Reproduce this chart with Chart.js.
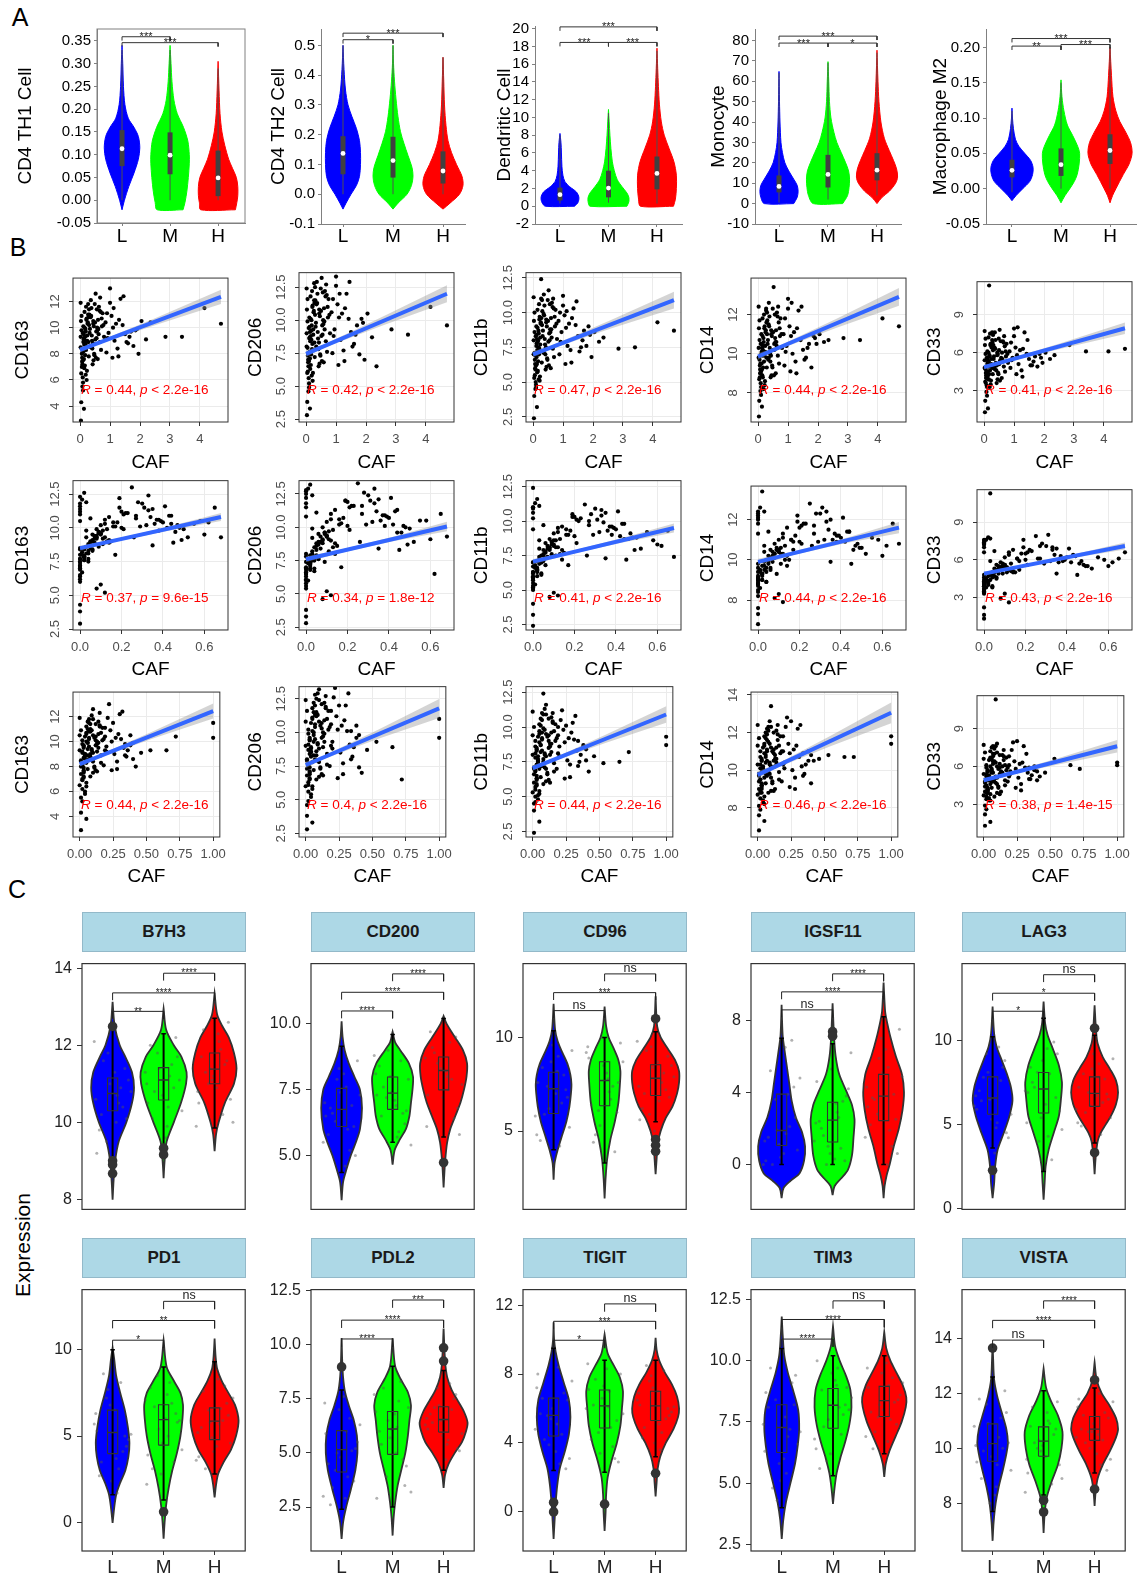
<!DOCTYPE html>
<html lang="en">
<head>
<meta charset="utf-8">
<title>Immune infiltration figure</title>
<script src="https://cdn.jsdelivr.net/npm/chart.js@4.4.1/dist/chart.umd.min.js"></script>
<style>
html,body{margin:0;padding:0;background:#ffffff;}
body{position:relative;width:1145px;height:1576px;overflow:hidden;font-family:"Liberation Sans",Arial,Helvetica,sans-serif;color:#000;}
canvas{position:absolute;}
.plab{position:absolute;font-size:25px;line-height:1;transform:translate(-50%,-50%);}
.strip{position:absolute;box-sizing:border-box;background:#ADD8E6;border:1px solid #93B9C9;font-weight:bold;font-size:17px;color:#1a1a1a;display:flex;align-items:center;justify-content:center;}
.ylab{position:absolute;font-size:21px;line-height:1;white-space:nowrap;transform:translate(-50%,-50%) rotate(-90deg);}
</style>
</head>
<body>
<div class="plab" style="left:20px;top:17px;">A</div>
<div class="plab" style="left:18px;top:247px;">B</div>
<div class="plab" style="left:17px;top:889px;">C</div>
<div class="ylab" style="left:22px;top:1245px;">Expression</div>
<script>
// ======================= DATA =======================
const groupLabels = ['L', 'M', 'H'];

// ---------- Panel A ----------
const aTitles = ['CD4 TH1 Cell', 'CD4 TH2 Cell', 'Dendritic Cell', 'Monocyte', 'Macrophage M2'];
const aYTicks = [
  [-0.05, 0, 0.05, 0.1, 0.15, 0.2, 0.25, 0.3, 0.35],
  [-0.1, 0, 0.1, 0.2, 0.3, 0.4, 0.5],
  [-2, 0, 2, 4, 6, 8, 10, 12, 14, 16, 18, 20],
  [-10, 0, 10, 20, 30, 40, 50, 60, 70, 80],
  [-0.05, 0, 0.05, 0.1, 0.15, 0.2]
];
const aYRange = [[-0.05, 0.376], [-0.1, 0.555], [-2, 20.3], [-10, 85.6], [-0.05, 0.226]];
// violin density profiles: [value, half-width]
const aViolins = [
  [
    [[-0.021,0],[0,0.05],[0.03,0.14],[0.06,0.25],[0.09,0.34],[0.115,0.37],[0.14,0.34],[0.16,0.25],[0.18,0.13],[0.21,0.06],[0.25,0.03],[0.3,0.015],[0.34,0]],
    [[-0.021,0.27],[-0.005,0.31],[0.02,0.35],[0.05,0.38],[0.08,0.4],[0.1,0.4],[0.13,0.37],[0.16,0.28],[0.19,0.15],[0.22,0.08],[0.26,0.04],[0.3,0.02],[0.34,0]],
    [[-0.021,0.36],[-0.005,0.39],[0.01,0.41],[0.03,0.41],[0.05,0.38],[0.07,0.3],[0.09,0.22],[0.12,0.14],[0.15,0.08],[0.19,0.04],[0.24,0.02],[0.305,0]]
  ],
  [
    [[-0.05,0],[-0.03,0.06],[0,0.16],[0.03,0.27],[0.06,0.33],[0.1,0.35],[0.14,0.35],[0.18,0.33],[0.22,0.27],[0.26,0.18],[0.3,0.1],[0.35,0.05],[0.42,0.02],[0.5,0]],
    [[-0.05,0],[-0.03,0.1],[0,0.28],[0.03,0.37],[0.06,0.4],[0.09,0.38],[0.13,0.3],[0.17,0.22],[0.21,0.15],[0.26,0.1],[0.32,0.06],[0.38,0.03],[0.44,0.01],[0.5,0]],
    [[-0.05,0],[-0.03,0.14],[0,0.33],[0.03,0.4],[0.06,0.38],[0.1,0.27],[0.14,0.17],[0.18,0.1],[0.23,0.06],[0.3,0.03],[0.38,0.015],[0.46,0]]
  ],
  [
    [[0,0.3],[0.4,0.37],[1,0.39],[1.6,0.34],[2.2,0.2],[2.8,0.1],[3.5,0.06],[4.5,0.04],[6,0.03],[7.2,0.02],[8.2,0]],
    [[0,0.38],[0.5,0.42],[1,0.42],[1.5,0.38],[2.2,0.28],[3,0.18],[4,0.12],[5,0.08],[6.5,0.05],[8,0.03],[9.5,0.015],[10.9,0]],
    [[0,0.34],[0.8,0.38],[2,0.4],[3.5,0.4],[5,0.35],[6.5,0.25],[8,0.15],[9.5,0.09],[11.5,0.05],[13.5,0.03],[15.5,0.015],[17.8,0]]
  ],
  [
    [[0,0.3],[3,0.37],[6,0.39],[9,0.37],[12,0.3],[16,0.2],[20,0.12],[25,0.07],[30,0.04],[40,0.02],[50,0.01],[64.8,0]],
    [[0,0.3],[4,0.4],[8,0.43],[12,0.44],[16,0.42],[20,0.36],[25,0.27],[30,0.18],[35,0.12],[42,0.06],[50,0.03],[60,0.015],[69.6,0]],
    [[0,0],[3,0.1],[6,0.25],[10,0.38],[13,0.42],[17,0.4],[21,0.34],[26,0.25],[32,0.15],[40,0.08],[50,0.04],[60,0.02],[75.2,0]]
  ],
  [
    [[-0.017,0],[-0.01,0.08],[0,0.22],[0.01,0.36],[0.02,0.42],[0.03,0.43],[0.04,0.38],[0.05,0.26],[0.06,0.14],[0.07,0.07],[0.085,0.03],[0.1,0.01],[0.114,0]],
    [[-0.02,0],[-0.01,0.08],[0,0.18],[0.01,0.27],[0.02,0.33],[0.035,0.37],[0.05,0.38],[0.06,0.34],[0.075,0.24],[0.09,0.13],[0.11,0.06],[0.13,0.02],[0.154,0]],
    [[-0.02,0],[-0.01,0.05],[0,0.12],[0.02,0.27],[0.035,0.39],[0.05,0.45],[0.065,0.42],[0.08,0.32],[0.095,0.2],[0.11,0.12],[0.13,0.06],[0.16,0.03],[0.2,0]]
  ]
];
// [Q1, median, Q3]
const aBoxes = [
  [[0.075,0.113,0.154],[0.057,0.099,0.149],[0.009,0.049,0.109]],
  [[0.067,0.137,0.195],[0.056,0.113,0.193],[0.036,0.078,0.144]],
  [[0.65,1.3,2.1],[1.0,2.05,4.0],[1.9,3.7,5.6]],
  [[5.5,8.4,13.8],[7.9,14.3,23.9],[11.4,16.4,24.7]],
  [[0.016,0.026,0.041],[0.018,0.034,0.057],[0.035,0.054,0.077]]
];
const aWhiskers = [
  [[0,0.33],[0,0.33],[0,0.29]],
  [[0,0.5],[0,0.5],[0,0.46]],
  [[0.3,8.0],[0.4,10.5],[0.3,17.5]],
  [[0.5,64],[2,69],[4,74]],
  [[-0.005,0.11],[0,0.15],[0,0.2]]
];
// [group1, group2, bracket value, label]
const aSig = [
  [[1,2,0.359,'***'],[1,3,0.346,'***']],
  [[1,2,0.519,'*'],[1,3,0.541,'***']],
  [[1,2,18.45,'***'],[2,3,18.45,'***'],[1,3,20.2,'***']],
  [[1,2,78.7,'***'],[2,3,78.7,'*'],[1,3,82.1,'***']],
  [[1,2,0.2018,'**'],[2,3,0.204,'***'],[1,3,0.2125,'***']]
];

// ---------- Panel B (same samples in every plot) ----------
const cafRow1 = [
  0.02,0.05,0.08,0.03,0.1,0.12,0.06,0.15,0.04,0.09,
  0.11,0.07,0.18,0.13,0.02,0.2,0.14,0.05,0.22,0.1,
  0.16,0.08,0.25,0.12,0.03,0.19,0.27,0.06,0.21,0.15,
  0.09,0.24,0.17,0.04,0.28,0.11,0.23,0.13,0.3,0.07,
  0.2,0.26,0.1,0.18,0.29,0.14,0.05,0.22,0.12,0.27,
  0.16,0.08,0.3,0.19,0.24,0.02,0.13,0.28,0.21,0.17,
  0.32,0.35,0.41,0.38,0.45,0.33,0.5,0.36,0.43,0.55,
  0.31,0.48,0.6,0.39,0.52,0.34,0.46,0.65,0.42,0.58,
  0.37,0.7,0.49,0.62,0.44,0.53,0.75,0.4,0.57,0.67,
  0.47,0.72,0.54,0.63,0.36,0.78,0.51,0.69,0.59,0.44,
  0.8,0.56,0.66,0.73,0.61,0.85,0.92,1.0,0.88,1.05,
  1.12,0.95,1.2,1.08,1.3,0.9,1.15,1.42,1.25,1.0,
  1.5,1.35,1.6,1.1,1.45,1.65,1.28,1.55,1.7,1.78,
  1.85,1.95,2.05,2.2,2.35,1.9,2.85,3.4,4.15,4.7
];
const cafRow2 = [
  0,0.03,0,0,0.1,0.06,0.01,0,0,0.1,
  0.16,0,0.04,0,0.08,0,0,0.02,0.05,0,
  0.05,0.08,0.12,0.01,0,0.09,0,0,0.03,0.2,
  0,0.07,0.02,0,0.14,0.05,0.01,0.11,0,0,
  0.04,0.18,0.12,0.08,0.02,0.35,0.27,0,0.06,0,
  0,0.03,0.1,0,0.06,0.03,0.02,0.45,0.12,0.03,
  0.09,0.34,0,0.19,0.04,0.13,0.4,0.01,0.05,0.07,
  0.21,0.02,0.38,0.08,0.02,0.03,0.17,0.33,0,0.11,
  0.44,0.06,0.3,0.1,0.36,0.04,0.23,0.15,0.48,0,
  0,0.27,0.09,0.41,0.05,0.32,0.14,0.2,0.02,0.39,
  0.12,0.35,0.07,0.29,0.5,0.16,0.08,0.25,0.04,0.43,
  0.31,0.1,0.55,0,0.37,0.22,0.13,0.47,0.06,0.28,
  0.6,0.19,0.11,0.42,0.33,0.52,0.02,0.14,0.46,0.09,
  0.38,0.17,0.58,0.49,0.62,0.21,0.68,0.26,0.65,0.44
];
const cafRow3 = [
  0.01,0.02,0.03,0,0.04,0.02,0.01,0.05,0,0.03,
  0.02,0.03,0.04,0.05,0,0.06,0.02,0.01,0.05,0.03,
  0.04,0.01,0.07,0.02,0.01,0.03,0.08,0.02,0.04,0.05,
  0.02,0.06,0.03,0.01,0.07,0.04,0.05,0.02,0.08,0.01,
  0.05,0.04,0.02,0.06,0.06,0.03,0.01,0.04,0.03,0.07,
  0.03,0.02,0.07,0.05,0.04,0,0.03,0.06,0.05,0.09,
  0.07,0.08,0.1,0.07,0.1,0.06,0.12,0.09,0.08,0.13,
  0.06,0.11,0.14,0.09,0.1,0.07,0.12,0.15,0.08,0.13,
  0.09,0.16,0.1,0.14,0.11,0.12,0.17,0.08,0.13,0.15,
  0.11,0.16,0.12,0.14,0.09,0.18,0.1,0.15,0.13,0.1,
  0.19,0.12,0.16,0.17,0.14,0.19,0.2,0.22,0.18,0.23,
  0.25,0.2,0.27,0.24,0.29,0.19,0.26,0.31,0.28,0.21,
  0.33,0.3,0.35,0.24,0.32,0.36,0.28,0.34,0.38,0.4,
  0.34,0.42,0.38,0.46,0.72,0.4,0.53,0.65,1.0,1.0
];
const gCD163 = [
  8.5,9.8,7.2,10.5,5.8,9.1,8.0,11.2,6.5,9.6,
  10.1,7.7,8.8,3.8,9.3,11.6,6.9,8.4,10.7,7.5,
  9.0,5.5,10.3,8.2,2.9,9.7,11.0,7.0,8.6,10.0,
  6.2,9.4,7.9,4.3,10.8,8.9,6.7,9.2,11.4,7.4,
  8.3,10.4,5.2,9.9,7.8,8.7,10.9,6.0,9.5,11.8,
  7.1,8.1,10.2,6.4,9.0,11.9,7.6,8.9,10.6,9.3,
  9.6,10.8,8.4,11.5,7.5,9.9,10.4,12.1,8.8,9.2,
  11.0,7.9,10.6,9.4,12.6,8.6,10.1,11.3,7.2,9.8,
  10.9,8.3,11.8,9.5,10.3,7.7,11.1,9.0,10.0,12.3,
  8.0,10.7,9.7,11.6,8.5,10.2,9.1,11.2,7.6,10.5,
  9.3,11.4,8.9,10.1,9.9,10.4,9.2,13.0,8.1,10.9,
  11.5,9.6,10.3,7.7,10.6,11.1,9.0,10.2,8.4,11.9,
  9.5,12.2,8.8,10.0,12.4,9.3,7.8,8.9,9.7,8.6,
  9.8,8.0,10.5,9.1,10.4,9.9,9.3,9.3,11.5,10.3
];
const gCD206 = [
  8.0,9.9,6.5,10.8,5.2,8.7,7.3,11.8,6.0,9.4,
  10.2,7.0,8.5,3.3,9.0,12.2,6.3,7.9,11.1,6.9,
  8.8,4.6,10.6,7.6,2.8,9.6,11.5,6.1,8.2,10.1,
  5.6,9.3,7.4,3.8,11.3,8.6,6.0,9.1,12.5,6.8,
  7.8,10.7,4.9,10.0,7.2,8.4,11.6,5.4,9.5,12.8,
  6.6,7.5,10.4,5.8,8.9,12.4,7.1,8.3,11.0,9.2,
  9.5,11.2,7.8,12.0,6.7,9.8,10.7,12.9,8.3,8.9,
  11.5,7.3,10.9,9.1,13.2,8.0,10.3,11.8,6.5,9.7,
  11.3,7.6,12.4,9.3,10.5,6.9,11.6,8.6,10.0,12.7,
  7.4,11.0,9.6,12.2,7.9,10.4,8.8,11.9,6.8,10.8,
  9.0,12.1,8.4,10.2,9.9,10.6,8.8,13.3,7.5,11.2,
  12.0,9.3,10.5,6.6,10.9,11.6,8.5,10.1,7.7,12.6,
  9.1,12.0,8.2,10.2,12.9,8.9,6.9,8.0,9.6,7.4,
  10.1,7.0,10.5,8.7,6.5,9.8,9.3,8.9,11.0,9.6
];
const gCD11b = [
  7.0,8.6,5.9,9.4,4.8,7.8,6.6,10.2,5.3,8.3,
  9.0,6.3,7.5,3.2,8.0,10.6,5.7,7.1,9.7,6.2,
  7.9,4.5,9.2,6.8,2.4,8.5,12.4,5.5,7.4,8.9,
  5.0,8.2,6.5,4.0,9.6,7.6,5.4,8.1,10.9,6.0,
  7.0,9.3,4.6,8.7,6.4,7.3,10.0,5.1,8.4,11.0,
  5.8,6.9,9.1,5.2,7.7,11.1,6.3,7.2,9.5,8.0,
  8.3,9.9,7.0,10.5,6.1,8.7,9.4,11.3,7.5,8.0,
  10.1,6.6,9.6,8.1,11.6,7.2,9.0,10.4,5.9,8.6,
  9.8,6.8,10.9,8.2,9.3,6.2,10.2,7.7,8.8,11.0,
  6.7,9.7,8.5,10.7,7.1,9.2,7.9,10.3,6.0,9.5,
  8.1,10.6,7.4,9.0,8.8,9.4,7.9,11.2,7.0,9.8,
  10.1,8.6,9.2,6.3,9.6,10.0,7.6,9.1,7.3,10.5,
  8.3,10.3,7.5,8.9,10.8,8.0,6.4,7.2,8.7,7.6,
  9.0,6.8,8.6,7.9,8.2,8.4,7.4,7.5,9.3,8.7
];
const gCD14 = [
  9.8,10.7,9.0,11.3,8.3,10.1,9.4,11.8,8.7,10.5,
  11.0,9.2,10.0,7.3,10.3,12.0,8.9,9.7,11.4,9.1,
  10.2,8.1,11.1,9.5,6.8,10.6,12.3,8.8,9.9,10.9,
  8.5,10.4,9.3,7.6,11.6,10.0,8.6,10.3,12.1,9.0,
  9.6,11.2,7.9,10.8,9.3,9.9,11.7,8.4,10.5,12.2,
  8.8,9.5,11.0,8.2,10.1,12.4,9.2,9.8,11.3,10.4,
  10.5,11.5,9.6,11.9,8.9,10.7,11.1,12.6,9.9,10.2,
  11.7,9.3,11.2,10.3,13.4,9.7,10.9,11.9,8.8,10.6,
  11.4,9.5,12.3,10.4,11.0,8.9,11.8,10.0,10.8,12.4,
  9.4,11.3,10.5,12.1,9.8,11.0,10.2,11.6,9.0,11.2,
  10.3,12.0,9.9,10.9,10.6,11.0,10.1,12.8,9.4,11.4,
  12.6,10.4,11.1,9.1,11.3,11.8,10.0,10.7,9.6,12.3,
  10.2,12.2,9.8,10.9,12.4,10.3,9.0,9.7,10.5,9.3,
  10.9,10.5,11.0,10.6,10.7,10.8,10.8,10.7,11.8,11.4
];
const gCD33 = [
  4.8,5.9,4.0,6.6,3.3,5.2,4.4,7.2,3.7,5.6,
  6.1,4.2,5.0,1.6,5.4,7.5,3.9,4.7,6.7,4.1,
  5.3,2.9,6.4,4.5,1.3,5.7,7.0,3.6,4.9,6.0,
  3.4,5.5,4.3,2.2,6.8,5.1,3.8,5.4,7.4,4.0,
  4.6,6.5,2.6,5.8,4.3,4.9,7.1,3.5,5.6,7.6,
  3.9,4.4,6.2,3.3,5.1,7.7,4.2,4.8,6.6,11.3,
  5.5,6.4,4.6,7.0,3.9,5.7,6.2,7.6,5.0,5.3,
  6.6,4.3,6.0,5.2,7.8,4.8,5.9,6.8,3.6,5.4,
  6.3,4.5,7.1,5.3,5.8,3.8,6.7,5.0,5.6,7.3,
  4.4,6.1,5.4,6.9,4.7,5.9,5.1,6.5,4.0,6.0,
  5.2,6.9,4.9,5.7,5.5,6.1,5.4,7.9,4.8,6.4,
  8.0,5.6,6.2,4.3,6.3,6.8,5.1,5.9,4.6,7.3,
  5.5,7.6,5.0,5.8,7.0,5.3,4.1,5.0,5.7,4.9,
  5.9,5.2,6.0,5.5,5.8,5.6,6.6,6.1,6.1,6.3
];
const bGenes = ['CD163', 'CD206', 'CD11b', 'CD14', 'CD33'];
const bXTicks = [[0, 1, 2, 3, 4], [0, 0.2, 0.4, 0.6], [0, 0.25, 0.5, 0.75, 1]];
const bXRange = [[-0.235, 4.935], [-0.034, 0.714], [-0.05, 1.05]];
const bYTicks = [
  [[4,6,8,10,12],[2.5,5,7.5,10,12.5],[2.5,5,7.5,10,12.5],[8,10,12],[3,6,9]],
  [[2.5,5,7.5,10,12.5],[2.5,5,7.5,10,12.5],[2.5,5,7.5,10,12.5],[8,10,12],[3,6,9]],
  [[4,6,8,10,12],[2.5,5,7.5,10,12.5],[2.5,5,7.5,10,12.5],[8,10,12,14],[3,6,9]]
];
const bYRange = [
  [[2.79,13.79],[2.28,13.6],[2.13,12.87],[6.52,13.86],[0.53,11.6]],
  [[2.43,13.5],[2.29,13.5],[2.1,12.93],[6.51,13.67],[0.4,11.6]],
  [[2.35,13.97],[2.23,13.4],[2.1,12.9],[6.45,14.15],[0.41,11.6]]
];
// fitted line values at CAF = 0 and CAF = max
const bFitLine = [
  [[8.3,12.35],[7.45,12.0],[7.0,10.9],[9.86,12.9],[4.86,7.93]],
  [[8.5,10.8],[7.6,10.06],[7.06,9.5],[9.9,11.6],[4.9,7.1]],
  [[8.2,12.45],[7.58,11.78],[7.05,10.9],[9.75,13.05],[4.9,7.6]]
];
const bFitX = [[0, 0.6, 2.6, 4.7], [0, 0.17, 0.42, 0.68], [0, 0.13, 0.55, 1.0]];
// confidence band half-widths at bFitX positions
const bBand = [
  [[0.2,0.1,0.28,0.55],[0.24,0.12,0.34,0.65],[0.22,0.11,0.31,0.6],[0.16,0.08,0.23,0.45],[0.16,0.08,0.23,0.45]],
  [[0.17,0.1,0.15,0.3],[0.2,0.12,0.17,0.35],[0.19,0.11,0.16,0.33],[0.15,0.09,0.13,0.28],[0.15,0.09,0.13,0.28]],
  [[0.2,0.1,0.3,0.6],[0.24,0.12,0.35,0.7],[0.2,0.1,0.3,0.6],[0.19,0.09,0.28,0.55],[0.17,0.08,0.25,0.5]]
];
const bStats = [
  [['0.44','< 2.2e-16'],['0.42','< 2.2e-16'],['0.47','< 2.2e-16'],['0.44','< 2.2e-16'],['0.41','< 2.2e-16']],
  [['0.37','= 9.6e-15'],['0.34','= 1.8e-12'],['0.41','< 2.2e-16'],['0.44','< 2.2e-16'],['0.43','< 2.2e-16']],
  [['0.44','< 2.2e-16'],['0.4','< 2.2e-16'],['0.44','< 2.2e-16'],['0.46','< 2.2e-16'],['0.38','= 1.4e-15']]
];

// ---------- Panel C ----------
const cGenes = ['B7H3','CD200','CD96','IGSF11','LAG3','PD1','PDL2','TIGIT','TIM3','VISTA'];
const cYTicks = [[8,10,12,14],[5,7.5,10],[5,10],[0,4,8],[0,5,10],[0,5,10],[2.5,5,7.5,10,12.5],[0,4,8,12],[2.5,5,7.5,10,12.5],[8,10,12,14]];
const cYRange = [[7.74,14.12],[2.95,12.29],[0.82,13.94],[-2.5,11.15],[-0.05,14.55],[-1.66,13.48],[0.47,12.54],[-2.27,12.9],[2.23,12.9],[6.26,15.78]];
const cViolins = [
  [
    [[7.99,0],[8.5,0.02],[9,0.05],[9.5,0.12],[10,0.27],[10.5,0.38],[10.9,0.42],[11.3,0.38],[11.7,0.25],[12,0.14],[12.5,0.04],[13.13,0]],
    [[8.55,0],[9,0.02],[9.5,0.06],[10,0.2],[10.5,0.34],[11,0.44],[11.3,0.45],[11.7,0.35],[12,0.2],[12.4,0.05],[12.95,0]],
    [[9.25,0],[9.7,0.03],[10,0.08],[10.5,0.2],[11,0.38],[11.4,0.43],[11.8,0.38],[12.2,0.28],[12.5,0.15],[12.8,0.05],[13.35,0]]
  ],
  [
    [[3.3,0],[4,0.03],[4.5,0.1],[5,0.18],[5.5,0.28],[6,0.36],[6.8,0.4],[7.5,0.36],[8,0.25],[8.5,0.14],[9,0.06],[9.5,0.02],[10.1,0]],
    [[4.65,0],[5.2,0.04],[5.6,0.14],[6,0.26],[6.5,0.33],[7,0.36],[7.5,0.39],[8,0.4],[8.5,0.32],[9,0.15],[9.3,0.05],[9.7,0]],
    [[3.78,0],[4.5,0.02],[5,0.04],[5.5,0.07],[6,0.13],[6.5,0.23],[7,0.33],[7.5,0.4],[8,0.45],[8.5,0.46],[9,0.38],[9.5,0.22],[10,0.06],[10.3,0]]
  ],
  [
    [[2.4,0],[3.3,0.02],[4,0.08],[4.8,0.17],[5.5,0.25],[6.3,0.31],[7,0.34],[7.5,0.35],[8,0.33],[8.6,0.27],[9.2,0.17],[9.8,0.08],[10.4,0.03],[11.8,0]],
    [[1.4,0],[2.5,0.02],[3.5,0.05],[4.5,0.11],[5.5,0.2],[6.5,0.27],[7.5,0.3],[8.2,0.31],[8.8,0.27],[9.4,0.18],[10,0.08],[10.6,0.03],[11.64,0]],
    [[2.7,0],[3.5,0.02],[4.3,0.04],[5,0.1],[5.7,0.2],[6.3,0.33],[7,0.42],[7.6,0.46],[8.2,0.46],[8.8,0.38],[9.4,0.24],[10,0.1],[10.6,0.03],[12.2,0]]
  ],
  [
    [[-1.87,0],[-1.3,0.04],[-0.9,0.18],[-0.5,0.35],[0.2,0.44],[1,0.46],[1.8,0.4],[2.6,0.28],[3.5,0.2],[4.5,0.15],[5.5,0.1],[6.5,0.05],[7.2,0.02],[8.87,0]],
    [[-1.7,0],[-1.2,0.04],[-0.8,0.16],[-0.3,0.3],[0.5,0.38],[1.5,0.41],[2.5,0.43],[3.3,0.38],[4,0.28],[5,0.13],[6,0.06],[7,0.03],[8.95,0]],
    [[-1.87,0],[-1.2,0.02],[-0.6,0.06],[0,0.12],[1,0.2],[2,0.3],[3,0.37],[4,0.4],[5,0.36],[6,0.24],[7,0.14],[8,0.06],[8.5,0.03],[10.1,0]]
  ],
  [
    [[0.62,0],[1.5,0.03],[2.5,0.05],[3.5,0.1],[4.5,0.22],[5.5,0.33],[6.4,0.39],[7.2,0.36],[8,0.28],[8.8,0.18],[9.6,0.08],[10.4,0.03],[12,0]],
    [[0.53,0],[1.5,0.02],[2.5,0.04],[3.5,0.1],[4.5,0.2],[5.5,0.3],[6.5,0.34],[7.5,0.36],[8.5,0.3],[9.5,0.18],[10.3,0.08],[11,0.03],[12.3,0]],
    [[2.04,0],[3,0.02],[4,0.06],[4.5,0.12],[5,0.22],[5.5,0.32],[6.2,0.42],[6.9,0.46],[7.6,0.42],[8.3,0.3],[9,0.16],[9.8,0.06],[10.5,0.03],[12.08,0]]
  ],
  [
    [[-0.04,0],[0.8,0.03],[1.6,0.07],[2.3,0.15],[3,0.25],[3.8,0.31],[4.6,0.33],[5.5,0.3],[6.5,0.24],[7.5,0.15],[8.5,0.07],[9.5,0.03],[10.1,0]],
    [[-0.95,0],[0,0.02],[1,0.05],[2,0.1],[3,0.17],[4,0.26],[5,0.33],[6,0.37],[6.8,0.38],[7.5,0.33],[8.2,0.2],[9,0.06],[10.55,0]],
    [[1.44,0],[2.2,0.03],[2.8,0.07],[3.5,0.18],[4.2,0.32],[5,0.42],[5.9,0.47],[6.8,0.4],[7.5,0.27],[8.2,0.14],[8.9,0.05],[9.6,0.02],[10.64,0]]
  ],
  [
    [[1.03,0],[1.8,0.03],[2.5,0.09],[3.3,0.18],[4.2,0.27],[5,0.31],[5.8,0.3],[6.5,0.24],[7.2,0.14],[7.9,0.06],[8.8,0.02],[10.3,0]],
    [[1.18,0],[2,0.02],[2.7,0.05],[3.5,0.1],[4.3,0.18],[5,0.25],[5.8,0.3],[6.5,0.33],[7.2,0.36],[7.8,0.3],[8.4,0.16],[9,0.05],[10.3,0]],
    [[3.38,0],[4,0.03],[4.5,0.1],[5,0.22],[5.5,0.36],[6,0.44],[6.4,0.47],[6.9,0.4],[7.4,0.28],[7.9,0.16],[8.5,0.07],[9.2,0.03],[10.74,0]]
  ],
  [
    [[-1.57,0],[-0.5,0.02],[0.5,0.04],[1.5,0.07],[2.5,0.12],[3.5,0.22],[4.5,0.3],[5.5,0.33],[6.5,0.3],[7.5,0.2],[8.5,0.1],[9.3,0.04],[10,0.01],[11,0]],
    [[-1.1,0],[0,0.02],[1,0.03],[2,0.06],[3,0.14],[4,0.24],[5,0.31],[6,0.34],[7,0.36],[7.8,0.3],[8.5,0.18],[9.2,0.06],[10.3,0]],
    [[0.9,0],[1.7,0.02],[2.5,0.04],[3.2,0.09],[4,0.2],[4.8,0.35],[5.5,0.44],[6,0.46],[6.7,0.42],[7.4,0.32],[8.1,0.18],[8.8,0.07],[9.4,0.02],[10.1,0]]
  ],
  [
    [[2.72,0],[3.5,0.03],[4.2,0.08],[5,0.17],[5.8,0.26],[6.5,0.31],[7.2,0.34],[8,0.32],[8.8,0.22],[9.5,0.12],[10.2,0.05],[11,0.02],[11.8,0]],
    [[4.15,0],[4.8,0.03],[5.4,0.07],[6,0.14],[6.7,0.24],[7.4,0.32],[8.1,0.36],[8.8,0.34],[9.4,0.25],[10,0.13],[10.6,0.04],[11.4,0]],
    [[5.25,0],[5.8,0.03],[6.3,0.1],[6.9,0.22],[7.5,0.34],[8.1,0.42],[8.5,0.43],[9,0.36],[9.5,0.24],[10,0.12],[10.5,0.04],[11.16,0]]
  ],
  [
    [[6.63,0],[7.3,0.02],[8,0.06],[8.6,0.12],[9.2,0.2],[9.8,0.27],[10.2,0.3],[10.7,0.27],[11.3,0.18],[11.9,0.09],[12.5,0.03],[13.3,0.01],[13.8,0]],
    [[6.92,0],[7.6,0.02],[8.2,0.06],[8.8,0.16],[9.4,0.28],[10,0.35],[10.6,0.37],[11.2,0.28],[11.7,0.15],[12.2,0.05],[12.9,0]],
    [[7.9,0],[8.4,0.02],[8.9,0.06],[9.4,0.16],[9.9,0.3],[10.4,0.42],[10.7,0.46],[11.1,0.42],[11.6,0.28],[12,0.14],[12.5,0.04],[13.13,0]]
  ]
];
const cBoxes = [
  [[10.3,10.75,11.15],[10.58,11.1,11.42],[11.0,11.38,11.8]],
  [[6.1,6.75,7.55],[6.75,7.37,7.98],[7.49,8.23,8.74]],
  [[5.94,7.26,8.14],[6.35,7.7,8.7],[6.9,7.82,8.54]],
  [[1.05,1.88,3.9],[1.24,2.46,3.45],[2.43,3.79,5.0]],
  [[5.6,6.57,7.82],[5.68,7.1,8.08],[6.07,6.84,7.82]],
  [[3.98,5.2,6.5],[4.47,5.95,6.81],[4.79,5.86,6.63]],
  [[4.12,5.15,6.03],[4.93,6.1,6.91],[5.96,6.54,7.13]],
  [[4.4,5.6,6.6],[4.87,6.15,7.07],[5.3,6.15,7.0]],
  [[6.25,7.27,8.2],[7.24,8.18,8.86],[7.72,8.37,8.95]],
  [[9.53,10.17,10.89],[9.71,10.26,10.78],[10.29,10.7,11.16]]
];
const cWhiskers = [
  [[9.05,12.45],[9.4,12.3],[9.85,12.7]],
  [[4.35,9.15],[5.5,9.6],[5.7,10.2]],
  [[4.0,10.35],[3.3,10.0],[5.5,10.3]],
  [[0,7.0],[0,6.7],[0,8.2]],
  [[3.6,10.2],[2.2,11.3],[3.9,10.3]],
  [[1.6,10.0],[1.3,9.0],[2.8,9.3]],
  [[2.4,7.9],[2.5,9.0],[4.2,8.8]],
  [[2.4,9.5],[2.3,8.8],[3.2,8.8]],
  [[4.0,10.5],[5.3,10.2],[6.2,10.2]],
  [[7.7,12.6],[8.3,12.1],[9.1,12.2]]
];
const cOutliers = [
  [[12.49,9.0,8.9,8.67],[9.33,9.16],[]],
  [[],[],[4.73]],
  [[],[],[11.0,4.55,4.24,3.92]],
  [[],[7.37,7.12],[]],
  [[2.27],[],[10.71,3.32]],
  [[],[0.61],[]],
  [[8.97],[],[9.85,9.24]],
  [[0.55,0],[0.45],[2.24]],
  [[],[],[]],
  [[13.65],[8.1,7.68],[12.49,8.51]]
];
const cJitter = [
  [[9.2,10.5,11.0,10.1,11.6,10.8,9.8,11.3,10.4,12.1,10.7,9.5,11.1,10.2,10.9,8.9,11.4,10.6,10.0,11.8],
   [9.6,10.9,11.3,10.4,11.8,11.1,10.1,11.5,10.7,12.2,11.0,9.9,11.4,10.5,11.2,9.3,11.7,10.8,10.3,12.0],
   [10.2,11.2,11.6,10.8,12.3,11.4,10.5,11.9,11.1,12.6,11.3,10.0,11.7,10.9,11.5,9.9,12.1,11.0,10.6,12.4]],
  [[5.0,6.6,7.3,5.8,8.1,6.9,5.5,7.6,6.3,8.6,6.8,5.2,7.4,6.1,7.0,4.6,7.9,6.5,6.0,8.3],
   [5.7,7.2,7.9,6.5,8.6,7.4,6.2,8.1,6.9,9.0,7.3,5.9,8.0,6.7,7.6,5.4,8.4,7.1,6.6,8.8],
   [6.1,8.0,8.6,7.3,9.3,8.3,6.8,8.9,7.7,9.7,8.2,6.4,8.7,7.5,8.5,5.8,9.1,7.9,7.2,9.5]],
  [[4.5,7.0,8.0,5.8,9.0,7.4,5.2,8.4,6.5,9.6,7.2,4.8,8.2,6.2,7.6,4.2,8.7,6.8,5.9,9.3],
   [4.4,7.4,8.5,6.0,9.5,7.8,5.3,8.9,6.7,10.0,7.6,4.8,8.7,6.4,8.1,3.9,9.2,7.1,6.1,9.7],
   [5.6,7.6,8.4,6.8,9.3,7.9,6.2,8.7,7.2,9.8,7.8,5.9,8.5,7.0,8.1,5.0,9.0,7.4,6.6,9.5]],
  [[0.0,1.7,3.6,0.8,5.2,2.1,0.4,4.3,1.3,6.5,1.9,0.2,3.9,1.1,2.6,0.0,4.8,1.5,0.6,6.9],
   [0.2,2.3,3.4,1.0,4.6,2.6,0.6,3.8,1.6,6.2,2.4,0.3,3.5,1.3,2.9,0.0,4.2,2.0,0.9,5.3],
   [0.6,3.6,4.9,2.2,6.4,3.9,1.5,5.4,2.8,7.5,3.7,1.0,5.1,2.5,4.3,0.0,5.9,3.2,1.9,7.0]],
  [[4.2,6.4,7.6,5.3,8.8,6.7,4.8,8.1,5.9,9.6,6.5,4.5,7.8,5.6,7.0,3.3,8.4,6.1,5.1,9.2],
   [4.0,6.9,8.0,5.4,9.2,7.2,4.7,8.4,6.2,9.9,7.0,4.3,8.1,5.8,7.5,2.9,8.8,6.6,5.1,9.5],
   [4.9,6.7,7.7,5.9,8.6,6.9,5.4,8.0,6.3,9.2,6.8,5.1,7.8,6.1,7.2,4.4,8.3,6.5,5.7,8.9]],
  [[2.4,5.0,6.3,3.7,7.7,5.3,3.1,6.8,4.4,8.6,5.1,2.7,6.5,4.1,5.7,1.7,7.2,4.8,3.5,8.1],
   [2.8,5.8,6.7,4.2,7.8,6.0,3.5,7.1,5.0,8.5,5.9,3.1,6.9,4.6,6.3,2.2,7.4,5.4,3.9,8.1],
   [3.6,5.7,6.5,4.6,7.6,5.9,4.1,6.9,5.2,8.3,5.8,3.8,6.6,4.9,6.2,3.1,7.2,5.5,4.4,7.9]],
  [[2.9,5.0,5.9,3.9,7.0,5.2,3.4,6.3,4.5,7.6,5.1,3.0,6.0,4.2,5.5,2.6,6.6,4.8,3.7,7.3],
   [3.2,6.0,6.8,4.7,7.7,6.2,3.9,7.1,5.4,8.3,6.1,3.5,6.9,5.0,6.5,2.9,7.4,5.7,4.4,8.0],
   [5.1,6.4,7.0,5.8,7.7,6.6,5.4,7.2,6.1,8.2,6.5,5.2,7.1,5.9,6.8,4.7,7.5,6.3,5.6,8.0]],
  [[2.8,5.4,6.5,4.2,7.6,5.7,3.5,6.9,4.8,8.4,5.6,3.1,6.6,4.5,6.0,2.5,7.2,5.1,3.9,8.0],
   [3.1,6.0,7.0,4.6,8.0,6.2,3.8,7.3,5.3,8.6,6.1,3.4,7.1,4.9,6.6,2.9,7.7,5.7,4.2,8.3],
   [4.0,6.0,6.9,5.1,7.9,6.2,4.6,7.2,5.6,8.5,6.1,4.3,7.0,5.4,6.5,3.6,7.6,5.8,4.9,8.2]],
  [[4.8,7.1,8.1,6.0,9.1,7.4,5.4,8.4,6.6,9.7,7.2,5.1,8.2,6.3,7.7,4.3,8.7,6.9,5.8,9.4],
   [5.9,8.0,8.8,7.0,9.5,8.2,6.4,9.0,7.6,10.0,8.1,6.2,8.9,7.3,8.5,5.6,9.2,7.8,6.8,9.7],
   [6.7,8.2,8.9,7.6,9.5,8.4,7.1,9.1,7.9,9.9,8.3,6.9,9.0,7.7,8.6,6.4,9.3,8.0,7.4,9.7]],
  [[8.3,10.0,10.8,9.4,11.6,10.2,8.9,11.1,9.7,12.1,10.1,8.6,10.9,9.5,10.4,8.0,11.3,9.9,9.2,11.8],
   [8.7,10.1,10.7,9.6,11.3,10.3,9.1,10.9,9.9,11.7,10.2,8.9,10.8,9.7,10.5,8.4,11.0,10.0,9.4,11.5],
   [9.4,10.6,11.1,10.2,11.7,10.7,9.8,11.3,10.4,12.0,10.6,9.6,11.2,10.3,10.9,9.2,11.5,10.5,10.0,11.8]]
];
const jitterOffsets = [-0.31,0.12,-0.05,0.27,-0.18,0.36,-0.26,0.04,0.2,-0.36,0.09,-0.12,0.31,-0.22,0.16,-0.02,0.24,-0.33,0.07,-0.09];
const cSig = [
  [[1,2,12.88,'**'],[1,3,13.36,'****'],[2,3,13.87,'****']],
  [[1,2,10.49,'****'],[1,3,11.2,'****'],[2,3,11.9,'****']],
  [[1,2,11.43,'ns'],[1,3,12.39,'***'],[2,3,13.39,'ns']],
  [[1,2,8.58,'ns'],[1,3,9.58,'****'],[2,3,10.58,'****']],
  [[1,2,11.72,'*'],[1,3,12.79,'*'],[2,3,13.89,'ns']],
  [[1,2,10.55,'*'],[1,3,11.69,'**'],[2,3,12.8,'ns']],
  [[1,2,10.26,'****'],[1,3,11.13,'****'],[2,3,12.06,'***']],
  [[1,2,9.96,'*'],[1,3,11.06,'***'],[2,3,12.07,'ns']],
  [[1,2,10.88,'****'],[1,3,11.68,'****'],[2,3,12.44,'ns']],
  [[1,2,13.94,'ns'],[1,3,14.66,'****'],[2,3,15.37,'****']]
];

// ======================= RENDERING =======================
const FONT = '"Liberation Sans", Arial, Helvetica, sans-serif';
const groupColors = ['#0000FF', '#00FF00', '#FF0000'];
Chart.defaults.font.family = FONT;
Chart.defaults.color = '#000';

const mctx = document.createElement('canvas').getContext('2d');
function textW(t, size) { mctx.font = size + 'px ' + FONT; return mctx.measureText(t).width; }
function decimalsOf(arr) {
  return Math.max(...arr.map(v => { const s = String(v); const i = s.indexOf('.'); return i < 0 ? 0 : s.length - i - 1; }));
}
function violinPts(cx, prof) {
  const right = prof.map(p => ({ x: cx + p[1], y: p[0] }));
  const left = prof.slice().reverse().map(p => ({ x: cx - p[1], y: p[0] }));
  const pts = right.concat(left);
  pts.push({ x: pts[0].x, y: pts[0].y });
  return pts;
}
function lineDs(pts, color, width, order) {
  return { data: pts.map(p => ({ x: p[0], y: p[1] })), showLine: true, fill: false, borderColor: color, backgroundColor: color,
    borderWidth: width, pointRadius: 0, pointHoverRadius: 0, pointHitRadius: 0, tension: 0, order };
}
function polyDs(pts, fillColor, lineColor, width, order, tension) {
  return { data: pts, showLine: true, fill: 'shape', backgroundColor: fillColor, borderColor: lineColor, borderWidth: width,
    pointRadius: 0, pointHoverRadius: 0, pointHitRadius: 0, tension, order };
}
function pointDs(pts, color, r, order) {
  return { data: pts.map(p => ({ x: p[0], y: p[1] })), showLine: false, pointRadius: r, pointHoverRadius: r, pointHitRadius: 0,
    pointBackgroundColor: color, backgroundColor: color, borderColor: color, pointBorderWidth: 0, borderWidth: 0, order };
}
function mkScale(o) {
  const d = decimalsOf(o.ticks);
  return {
    type: 'linear', position: o.axis === 'x' ? 'bottom' : 'left', min: o.min, max: o.max, bounds: 'data',
    afterBuildTicks: sc => { sc.ticks = o.ticks.map(v => ({ value: v })); },
    afterFit: sc => { if (o.axis === 'x') sc.height = o.size; else sc.width = o.size; },
    ticks: {
      display: o.showLabels !== false, autoSkip: false, font: { size: o.font, family: FONT }, color: o.color || '#000',
      padding: o.pad || 0, minRotation: o.rot || 0, maxRotation: o.rot || 0, crossAlign: o.crossAlign || 'near',
      callback: v => o.labels ? o.labels[Math.round(v) - 1] : Number(v).toFixed(d)
    },
    grid: { display: o.gridDisplay !== false, drawOnChartArea: !!o.onArea, color: o.gridColor || 'rgba(0,0,0,0)', lineWidth: 1,
      drawTicks: (o.tl || 0) > 0, tickLength: o.tl || 0, tickColor: o.tickColor || '#333', tickWidth: 1 },
    border: { display: !!o.border, color: o.border || '#000', width: 1 },
    title: o.title ? { display: true, text: o.title, font: { size: o.titleSize, family: FONT }, color: '#000', padding: 0 } : { display: false }
  };
}
function framePlug(color, width) {
  return { id: 'frame', afterDatasetsDraw(chart) {
    const { ctx, chartArea: a } = chart;
    ctx.save(); ctx.strokeStyle = color; ctx.lineWidth = width;
    ctx.strokeRect(a.left, a.top, a.right - a.left, a.bottom - a.top); ctx.restore();
  } };
}
function sigPlug(items, starSize, nsSize, color) {
  return { id: 'sig', afterDatasetsDraw(chart) {
    const ctx = chart.ctx, xs = chart.scales.x, ys = chart.scales.y;
    ctx.save(); ctx.fillStyle = color; ctx.textAlign = 'center'; ctx.textBaseline = 'alphabetic';
    items.forEach(it => {
      const px = xs.getPixelForValue(it.x), py = ys.getPixelForValue(it.y);
      const star = it.text !== 'ns';
      const size = star ? starSize : nsSize;
      ctx.font = size + 'px ' + FONT;
      ctx.fillText(it.text, px, star ? py + 0.32 * size : py - 2);
    });
    ctx.restore();
  } };
}
function statPlug(r, p) {
  return { id: 'stat', afterDatasetsDraw(chart) {
    const ctx = chart.ctx, a = chart.chartArea;
    let x = a.left + 8; const y = a.bottom - 31.5; const size = 13.5;
    const parts = [['R', true], [' = ' + r + ', ', false], ['p', true], [' ' + p, false]];
    ctx.save(); ctx.fillStyle = '#FF0000'; ctx.textBaseline = 'middle'; ctx.textAlign = 'left';
    parts.forEach(([t, it]) => { ctx.font = (it ? 'italic ' : '') + size + 'px ' + FONT; ctx.fillText(t, x, y); x += ctx.measureText(t).width; });
    ctx.restore();
  } };
}
function makeChart(cfg) {
  const f = cfg.frame;
  const W = Math.round(f.r - f.l) + cfg.yW + cfg.padR;
  const H = Math.round(f.b - f.t) + cfg.padT + cfg.xH;
  const cv = document.createElement('canvas');
  cv.width = W; cv.height = H;
  cv.style.left = Math.round(f.l - cfg.yW) + 'px';
  cv.style.top = Math.round(f.t - cfg.padT) + 'px';
  cv.style.width = W + 'px'; cv.style.height = H + 'px';
  document.body.appendChild(cv);
  return new Chart(cv.getContext('2d'), {
    type: 'scatter',
    data: { datasets: cfg.datasets },
    options: {
      responsive: false, maintainAspectRatio: false, animation: false, devicePixelRatio: 1, events: [],
      layout: { padding: { left: 0, top: cfg.padT, right: cfg.padR, bottom: 0 } },
      plugins: { legend: { display: false }, tooltip: { enabled: false }, title: { display: false }, colors: { enabled: false } },
      scales: { x: cfg.x, y: cfg.y }
    },
    plugins: cfg.plugins || []
  });
}

// ---------- Panel A charts ----------
const aFrames = [{ l: 97, t: 25, r: 245, b: 223 }, { l: 321, t: 25, r: 465, b: 224 }, { l: 535, t: 22, r: 682, b: 224 },
  { l: 755, t: 25, r: 901, b: 224 }, { l: 986, t: 25, r: 1136, b: 224 }];
const aXRange = [[0.479, 3.56], [0.56, 3.44], [0.485, 3.516], [0.51, 3.49], [0.47, 3.53]];
const aTitleX = [25, 278, 504, 718, 940];
aTitles.forEach((title, i) => {
  const f = aFrames[i];
  const yW = Math.round(f.l - aTitleX[i] + 0.6 * 19);
  const ds = [];
  for (let g = 0; g < 3; g++) {
    const cx = g + 1;
    ds.push(polyDs(violinPts(cx, aViolins[i][g]), groupColors[g], groupColors[g], 1, 10, 0.3));
    ds.push(lineDs([[cx, aWhiskers[i][g][0]], [cx, aWhiskers[i][g][1]]], '#505050', 1, 8));
    ds.push(lineDs([[cx, aBoxes[i][g][0]], [cx, aBoxes[i][g][2]]], '#404040', 5, 7));
    ds.push(pointDs([[cx, aBoxes[i][g][1]]], '#FFFFFF', 2.4, 6));
  }
  const yr = aYRange[i]; const tip = 0.02 * (yr[1] - yr[0]);
  const items = [];
  aSig[i].forEach(([g1, g2, y, t]) => {
    ds.push(lineDs([[g1, y - tip], [g1, y], [g2, y], [g2, y - tip]], '#333', 1, 2));
    items.push({ x: (g1 + g2) / 2, y, text: t });
  });
  const plugins = [sigPlug(items, 11, 12, '#222')];
  if (i === 0) plugins.unshift(framePlug('#808080', 1));
  makeChart({
    frame: f, yW, xH: 30, padT: 8, padR: 6, datasets: ds, plugins,
    x: mkScale({ axis: 'x', min: aXRange[i][0], max: aXRange[i][1], ticks: [1, 2, 3], labels: groupLabels, font: 19,
      tl: 3, pad: 237 - f.b - 3 - 0.6 * 19, tickColor: '#808080', border: '#808080', size: 30 }),
    y: mkScale({ axis: 'y', min: yr[0], max: yr[1], ticks: aYTicks[i], font: 15, tl: 3, pad: 3, tickColor: '#808080',
      border: '#808080', size: yW, title: title, titleSize: 19 })
  });
});

// ---------- Panel B charts ----------
const bCaf = [cafRow1, cafRow2, cafRow3];
const bGeneValues = [gCD163, gCD206, gCD11b, gCD14, gCD33];
const bColL = [73, 299, 526, 751, 977];
const bRowTB = [[268, 422], [476, 630], [682, 837]];
const bTitleX = [22, 255.5, 481, 707, 934];
const bTitleY = [463, 670, 877];
for (let r = 0; r < 3; r++) {
  for (let c = 0; c < 5; c++) {
    const f = { l: bColL[c], r: bColL[c] + 155, t: bRowTB[r][0], b: bRowTB[r][1] };
    const yW = Math.round(f.l - bTitleX[c] + 0.6 * 19);
    const xH = Math.round(bTitleY[r] - f.b + 0.6 * 19);
    const caf = bCaf[r], gv = bGeneValues[c];
    const ds = [];
    ds.push(pointDs(caf.map((x, i) => [x, gv[i]]), '#000000', 2.1, 3));
    const xs = bFitX[r]; const [y0, y1] = bFitLine[r][c]; const hw = bBand[r][c]; const xmax = xs[3];
    const center = xs.map(x => y0 + (y1 - y0) * x / xmax);
    const upper = xs.map((x, i) => ({ x, y: center[i] + hw[i] }));
    const lower = xs.map((x, i) => ({ x, y: center[i] - hw[i] })).reverse();
    const band = upper.concat(lower); band.push({ x: upper[0].x, y: upper[0].y });
    ds.push(polyDs(band, 'rgba(153,153,153,0.42)', 'rgba(0,0,0,0)', 0.01, 2, 0));
    ds.push(lineDs([[xs[0], y0], [xmax, y1]], '#3366FF', 4, 1));
    const yt = bYTicks[r][c]; const d = decimalsOf(yt);
    const widest = Math.max(...yt.map(v => textW(v.toFixed(d), 13)));
    makeChart({
      frame: f, yW, xH, padT: 4, padR: 4, datasets: ds,
      plugins: [framePlug('#333333', 1), statPlug(bStats[r][c][0], bStats[r][c][1])],
      x: mkScale({ axis: 'x', min: bXRange[r][0], max: bXRange[r][1], ticks: bXTicks[r], font: 13, color: '#4D4D4D',
        tl: 4, pad: 6, tickColor: '#333', onArea: true, gridColor: '#EBEBEB', size: xH, title: 'CAF', titleSize: 19 }),
      y: mkScale({ axis: 'y', min: bYRange[r][c][0], max: bYRange[r][c][1], ticks: yt, font: 13, color: '#4D4D4D',
        tl: 4, pad: 13.5 - widest / 2, rot: 90, crossAlign: 'center', tickColor: '#333', onArea: true, gridColor: '#EBEBEB',
        size: yW, title: bGenes[c], titleSize: 19 })
    });
  }
}

// ---------- Panel C charts ----------
const cColL = [82, 311, 523, 751, 962];
const cRowTB = [[951, 1224], [1277, 1551]];
const cStripTop = [912, 1238];
cGenes.forEach((gene, k) => {
  const row = Math.floor(k / 5), col = k % 5;
  const f = { l: cColL[col], r: cColL[col] + 164, t: cRowTB[row][0], b: cRowTB[row][1] };
  const strip = document.createElement('div');
  strip.className = 'strip';
  strip.textContent = gene;
  strip.style.left = f.l + 'px'; strip.style.top = cStripTop[row] + 'px';
  strip.style.width = '164px'; strip.style.height = (f.t - cStripTop[row] + 1) + 'px';
  document.body.appendChild(strip);
  const yr = cYRange[k];
  const ds = [];
  for (let g = 0; g < 3; g++) {
    const cx = g + 1;
    ds.push(polyDs(violinPts(cx, cViolins[k][g]), groupColors[g], '#333333', 1.8, 10, 0.3));
    ds.push(pointDs(cJitter[k][g].map((y, i) => [cx + jitterOffsets[(i + 7 * g + 3 * k) % jitterOffsets.length], y]),
      'rgba(85,85,85,0.45)', 1.5, 9));
    const [lo, hi] = cWhiskers[k][g];
    ds.push(lineDs([[cx, lo], [cx, hi]], '#000', 2, 6));
    ds.push(lineDs([[cx - 0.045, lo], [cx + 0.045, lo]], '#000', 1.5, 6));
    ds.push(lineDs([[cx - 0.045, hi], [cx + 0.045, hi]], '#000', 1.5, 6));
    const [q1, md, q3] = cBoxes[k][g];
    ds.push(lineDs([[cx - 0.1, q1], [cx + 0.1, q1], [cx + 0.1, q3], [cx - 0.1, q3], [cx - 0.1, q1]], '#333', 1.1, 5));
    ds.push(lineDs([[cx - 0.1, md], [cx + 0.1, md]], '#333', 1.4, 5));
    if (cOutliers[k][g].length) ds.push(pointDs(cOutliers[k][g].map(y => [cx, y]), '#333333', 4.8, 4));
  }
  const tip = 0.03 * (yr[1] - yr[0]);
  const items = [];
  cSig[k].forEach(([g1, g2, y, t]) => {
    ds.push(lineDs([[g1, y - tip], [g1, y], [g2, y], [g2, y - tip]], '#222', 1, 2));
    items.push({ x: (g1 + g2) / 2, y, text: t });
  });
  const bottomRow = row === 1;
  makeChart({
    frame: f, yW: 50, xH: bottomRow ? 25 : 0, padT: 2, padR: 4, datasets: ds,
    plugins: [framePlug('#333333', 1.2), sigPlug(items, 10, 12.5, '#222')],
    x: mkScale({ axis: 'x', min: 0.4, max: 3.6, ticks: [1, 2, 3], labels: groupLabels, font: 19, color: '#222',
      tl: bottomRow ? 4 : 0, pad: 1.6, tickColor: '#333', gridDisplay: bottomRow, showLabels: bottomRow, size: bottomRow ? 25 : 0 }),
    y: mkScale({ axis: 'y', min: yr[0], max: yr[1], ticks: cYTicks[k], font: 16, color: '#222', tl: 5, pad: 5,
      tickColor: '#333', size: 50 })
  });
});
</script>
</body>
</html>
